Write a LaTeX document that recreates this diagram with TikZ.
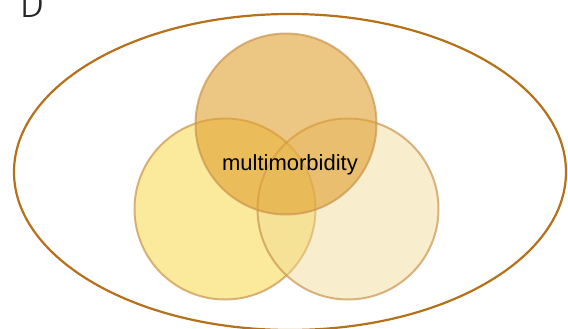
\documentclass[tikz,border=0pt]{standalone}
\usepackage{fontspec}
\setmainfont{Liberation Sans}
\newfontfamily\lightfont{Fira Sans Light}
\usetikzlibrary{shapes.geometric}
\definecolor{rim}{HTML}{B5711A}
\definecolor{setline}{HTML}{C9954F}
\definecolor{topfill}{HTML}{E0A030}
\definecolor{leftfill}{HTML}{F9D84A}
\definecolor{rightfill}{HTML}{F0D890}
\tikzstyle{universe} = [ellipse, minimum width=552pt, minimum height=316pt, draw=rim, line width=2.2pt]
\tikzstyle{set} = [circle, minimum size=181pt, draw=setline, draw opacity=0.7, line width=2pt, inner sep=0pt]

\begin{document}
\begin{tikzpicture}[x=1pt, y=-1pt]

    \useasboundingbox (0,0) rectangle (568,329);
    \node (universe) [universe] at (290,172) {};
    \node (left) [set, fill=leftfill, fill opacity=0.55] at (225,209) {};
    \node (right) [set, fill=rightfill, fill opacity=0.45] at (348,209) {};
    \node (top) [set, fill=topfill, fill opacity=0.6] at (286,124) {};
    \node (label) [font=\fontsize{22}{26}\selectfont] at (290,165) {multimorbidity};
    \node (panel) [anchor=base west, font=\lightfont\fontsize{40}{46}\selectfont, text=black!85] at (16,18) {D};

    \end{tikzpicture}
\end{document}
